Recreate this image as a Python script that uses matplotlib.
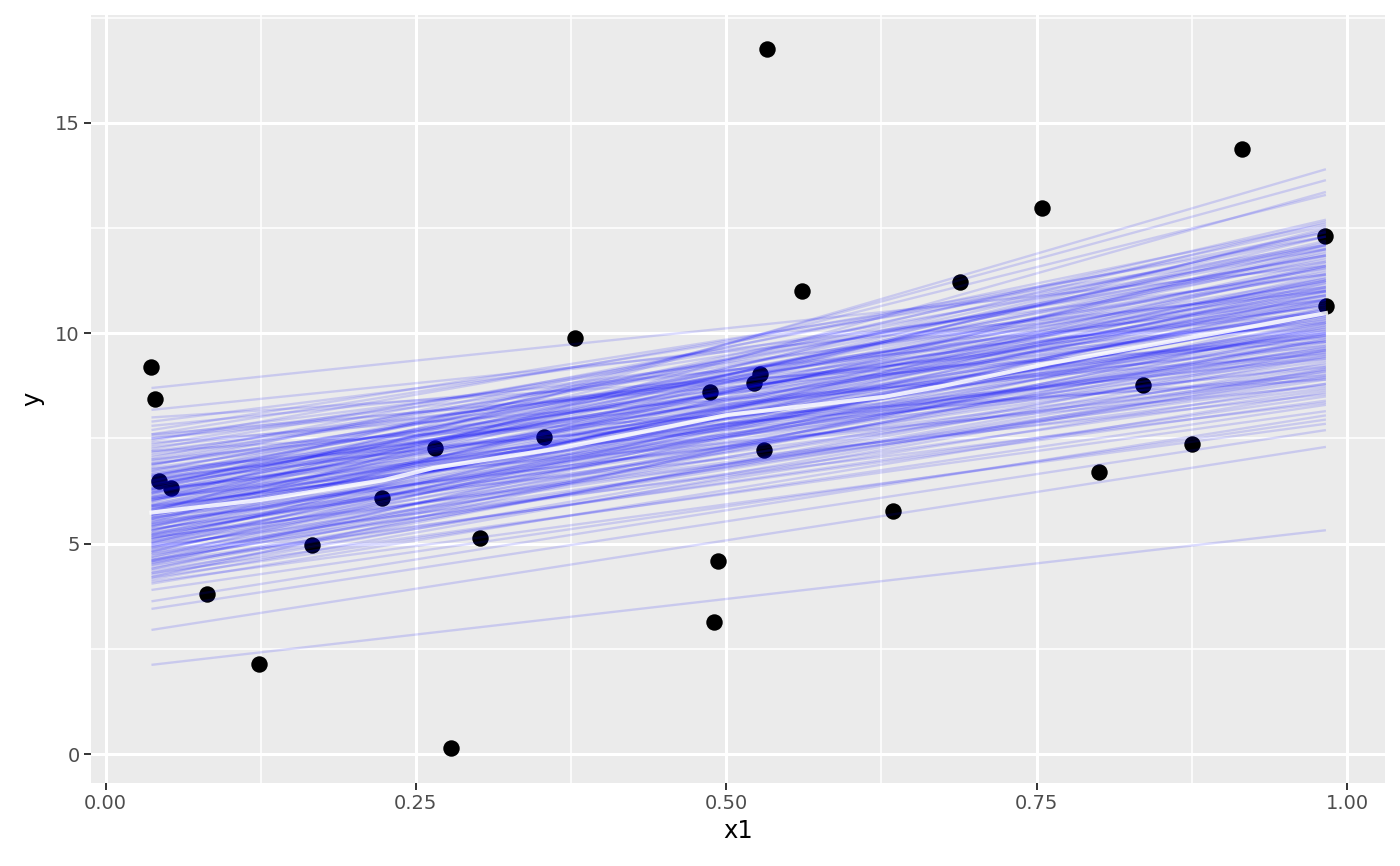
import numpy as np
import matplotlib
matplotlib.use("Agg")
import matplotlib.pyplot as plt
from matplotlib.ticker import MultipleLocator

# observed data
x1 = [0.037, 0.040, 0.043, 0.053, 0.082, 0.124, 0.166, 0.223, 0.265, 0.278,
      0.302, 0.353, 0.378, 0.487, 0.490, 0.493, 0.522, 0.527, 0.530, 0.533,
      0.561, 0.634, 0.688, 0.754, 0.800, 0.836, 0.875, 0.915, 0.982, 0.983]
y = [9.20, 8.45, 6.50, 6.32, 3.80, 2.13, 4.97, 6.08, 7.28, 0.15,
     5.13, 7.53, 9.90, 8.60, 3.13, 4.58, 8.83, 9.03, 7.22, 16.75,
     11.00, 5.78, 11.23, 12.97, 6.70, 8.78, 7.38, 14.38, 12.32, 10.65]

# draws of the fitted line: value at the left and right end of x1
x_lo, x_hi = 0.037, 0.983
draw_lo = [2.12, 2.95, 3.45, 3.63, 3.90, 4.05, 4.15, 4.20, 4.30, 4.35,
           4.40, 4.45, 4.50, 4.55, 4.60, 4.62, 4.68, 4.70, 4.75, 4.80,
           4.82, 4.88, 4.90, 4.95, 5.00, 5.02, 5.05, 5.10, 5.12, 5.15,
           5.20, 5.22, 5.25, 5.30, 5.32, 5.35, 5.40, 5.42, 5.45, 5.50,
           5.50, 5.55, 5.58, 5.60, 5.62, 5.65, 5.68, 5.70, 5.72, 5.75,
           5.78, 5.80, 5.82, 5.85, 5.88, 5.90, 5.92, 5.95, 6.00, 6.02,
           6.05, 6.08, 6.10, 6.12, 6.15, 6.18, 6.20, 6.22, 6.25, 6.28,
           6.30, 6.32, 6.35, 6.38, 6.40, 6.42, 6.45, 6.48, 6.50, 6.52,
           6.55, 6.58, 6.60, 6.62, 6.65, 6.70, 6.72, 6.75, 6.78, 6.80,
           6.85, 6.88, 6.90, 6.95, 7.00, 7.05, 7.10, 7.15, 7.20, 7.25,
           7.30, 7.35, 7.40, 7.45, 7.50, 7.55, 7.60, 7.70, 7.80, 7.90,
           8.00, 8.18, 8.70, 4.25, 4.58, 4.92, 5.18, 5.48, 5.76, 6.06,
           4.10, 4.30, 4.55, 4.75, 4.95, 5.15, 5.35, 5.55, 5.70, 5.90,
           6.10, 6.30, 4.40, 4.65, 4.85, 5.05, 5.25, 5.45, 5.65, 5.85,
           6.05, 6.25, 6.45, 6.65, 4.20, 4.50, 4.80, 5.10, 5.40, 5.70,
           6.00, 6.30, 6.60, 6.90, 7.20, 7.50, 5.00, 5.30, 5.60, 5.90,
           6.20, 6.50, 4.60, 5.20, 5.80, 6.40, 7.00, 7.60]
draw_hi = [5.32, 7.30, 7.70, 8.05, 7.95, 8.60, 9.10, 8.30, 9.60, 8.80,
           10.20, 9.30, 8.50, 9.90, 10.60, 9.00, 11.20, 9.50, 10.00, 8.90,
           10.80, 9.70, 11.60, 10.30, 9.20, 12.10, 10.50, 9.85, 11.00, 8.70,
           10.10, 11.40, 9.60, 12.50, 10.70, 9.35, 11.10, 10.25, 12.00, 13.36,
           9.80, 10.90, 11.70, 10.40, 9.10, 12.30, 10.60, 11.30, 9.95, 13.90,
           10.80, 12.65, 11.50, 10.20, 9.40, 11.00, 12.20, 10.55, 11.80, 13.64,
           10.00, 11.25, 12.40, 9.60, 10.70, 11.60, 12.70, 10.35, 11.10, 9.20,
           11.90, 13.29, 10.90, 12.10, 10.10, 11.45, 9.80, 12.55, 11.00, 10.50,
           11.75, 9.40, 12.30, 10.80, 11.30, 10.00, 12.00, 11.55, 9.00, 10.65,
           12.60, 11.20, 10.30, 11.85, 9.70, 12.40, 10.90, 11.40, 8.90, 12.00,
           10.40, 11.70, 9.50, 12.30, 10.80, 11.10, 9.90, 12.10, 10.50, 11.40,
           9.80, 11.00, 11.60, 9.15, 10.15, 8.95, 10.45, 9.65, 10.05, 9.55,
           7.85, 8.15, 8.40, 8.65, 8.35, 8.80, 9.05, 8.55, 8.95, 9.25,
           8.75, 9.45, 9.45, 9.85, 10.25, 9.55, 10.45, 9.75, 10.15, 9.65,
           10.85, 10.05, 10.75, 9.95, 10.45, 10.95, 11.35, 11.65, 11.95, 12.45,
           12.15, 11.85, 11.55, 11.05, 10.65, 10.25, 10.75, 11.25, 11.05, 10.35,
           11.15, 10.45, 9.15, 9.95, 10.55, 11.25, 11.85, 12.05]

# mean fitted line
mean_x = [0.037, 0.125, 0.224, 0.264, 0.366, 0.501, 0.627, 0.670, 0.761, 0.983]
mean_y = [5.74, 6.04, 6.51, 6.80, 7.27, 8.06, 8.49, 8.72, 9.29, 10.48]

fig = plt.figure(figsize=(14, 8.66), dpi=100)
ax = fig.add_axes([0.065, 0.0958, 0.9243, 0.8869])
ax.set_facecolor("#EBEBEB")

ax.scatter(x1, y, s=140, color="black", zorder=3, linewidths=0)
for lo, hi in zip(draw_lo, draw_hi):
    ax.plot([x_lo, x_hi], [lo, hi], color="blue", alpha=0.14, lw=1.7, zorder=4,
            solid_capstyle="butt")
ax.plot(mean_x, mean_y, color="white", alpha=0.85, lw=3.0, zorder=5)

ax.set_xlim(-0.0117, 1.0306)
ax.set_ylim(-0.689, 17.566)
ax.xaxis.set_major_locator(MultipleLocator(0.25))
ax.xaxis.set_minor_locator(MultipleLocator(0.125))
ax.yaxis.set_major_locator(MultipleLocator(5))
ax.yaxis.set_minor_locator(MultipleLocator(2.5))
ax.set_xticks([0, 0.25, 0.5, 0.75, 1.0])
ax.set_xticklabels(["0.00", "0.25", "0.50", "0.75", "1.00"])
ax.grid(which="major", color="white", lw=2.2)
ax.grid(which="minor", color="white", lw=1.1)
ax.set_axisbelow(True)
for s in ax.spines.values():
    s.set_visible(False)
ax.tick_params(which="major", length=5, width=1.4, color="#333333",
               labelsize=14, labelcolor="#4D4D4D", pad=3)
ax.tick_params(which="minor", length=0)

ax.set_xlabel("x1", fontsize=17.5, color="black", labelpad=4)
ax.set_ylabel("y", fontsize=17.5, color="black", labelpad=8)

fig.savefig("out.png", dpi=100, facecolor="white")
